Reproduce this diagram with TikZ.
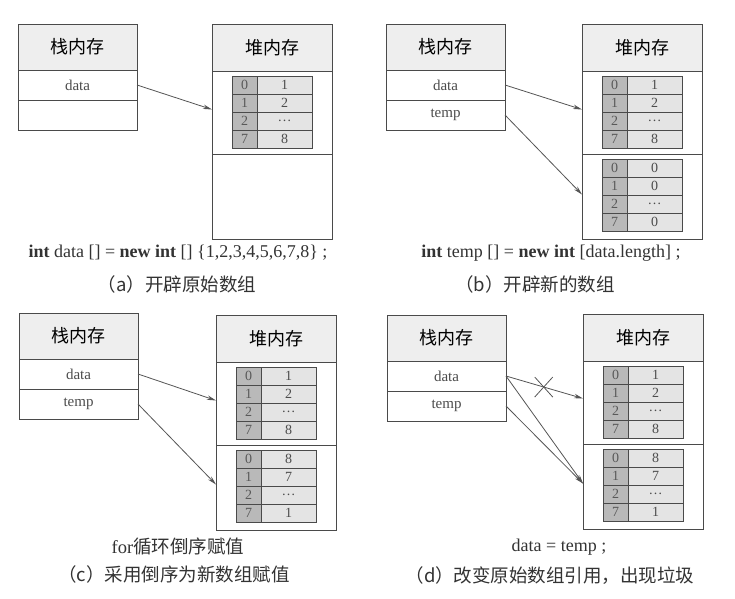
\documentclass[tikz,border=0pt]{standalone}
\usepackage{fontspec}
\setmainfont{Liberation Serif}
\newfontfamily\cjk{Noto Sans CJK SC}
\usetikzlibrary{calc,arrows.meta}
\definecolor{lnc}{HTML}{4A4A4A}
\definecolor{hdrc}{HTML}{EEEEEE}
\definecolor{idxc}{HTML}{B9B9B9}
\definecolor{valc}{HTML}{E4E4E4}
\definecolor{arrc}{HTML}{555555}
\tikzset{
  box/.style={draw=lnc, line width=0.8pt, inner sep=0pt, outer sep=0pt},
  hdr/.style={box, fill=hdrc, font=\cjk\fontsize{18}{18}\selectfont},
  cellbox/.style={box, fill=white, font=\fontsize{15}{15}\selectfont, text=black!70},
  idx/.style={box, fill=idxc, minimum width=25pt, minimum height=18pt, font=\fontsize{14}{14}\selectfont, text=black!65},
  val/.style={box, fill=valc, minimum width=55pt, minimum height=18pt, font=\fontsize{14}{14}\selectfont, text=black!70},
  ptr/.style={draw=arrc, line width=0.8pt, -{Stealth[length=9pt,width=4.5pt]}},
  codetxt/.style={font=\fontsize{18}{18}\selectfont, text=black!80},
  captxt/.style={font=\cjk\fontsize{18.5}{18.5}\selectfont, text=black!80}
}
\newcommand\stackmem[5]{%
  \node[hdr, minimum width=119pt, minimum height=46pt, anchor=north west] (#1-stack) at (#2,#3) {栈内存};
  \node[cellbox, minimum width=119pt, minimum height=30pt, anchor=north] (#1-data) at (#1-stack.south) {#4};
  \node[cellbox, minimum width=119pt, minimum height=30pt, anchor=north] (#1-temp) at (#1-data.south) {#5};
}
\newcommand\heapmem[3]{%
  \node[hdr, minimum width=120pt, minimum height=47pt, anchor=north west] (#1-heap) at (#2,#3) {堆内存};
  \node[box, fill=white, minimum width=120pt, minimum height=83pt, anchor=north] (#1-sec1) at (#1-heap.south) {};
  \node[box, fill=white, minimum width=120pt, minimum height=85pt, anchor=north] (#1-sec2) at (#1-sec1.south) {};
}
\newcommand\arr[6]{%
  \node[idx, anchor=north west] (#1-i0) at ($(#2.north west)+(20,5)$) {0};
  \node[val, anchor=west] (#1-v0) at (#1-i0.east) {#3};
  \node[idx, anchor=north] (#1-i1) at (#1-i0.south) {1};
  \node[val, anchor=west] (#1-v1) at (#1-i1.east) {#4};
  \node[idx, anchor=north] (#1-i2) at (#1-i1.south) {2};
  \node[val, anchor=west] (#1-v2) at (#1-i2.east) {#5};
  \node[idx, anchor=north] (#1-i3) at (#1-i2.south) {7};
  \node[val, anchor=west] (#1-v3) at (#1-i3.east) {#6};
}
\begin{document}
\begin{tikzpicture}[x=1pt,y=-1pt]
\useasboundingbox[fill=white] (0,0) rectangle (735,598);
% (a)
\stackmem{a}{18}{24}{data}{}
\heapmem{a}{212}{24}
\arr{a1}{a-sec1}{1}{2}{\dots}{8}
\draw[ptr] (a-data.east) -- ($(a-sec1.west)+(0,-3)$);
\node[codetxt] (a-code) at (178,253) {\textbf{int} data [] = \textbf{new int} [] \{1,2,3,4,5,6,7,8\} ;};
\node[captxt] (a-cap) at (177,284) {（a）开辟原始数组};
% (b)
\stackmem{b}{386}{24}{data}{temp}
\heapmem{b}{582}{24}
\arr{b1}{b-sec1}{1}{2}{\dots}{8}
\arr{b2}{b-sec2}{0}{0}{\dots}{0}
\draw[ptr] (b-data.east) -- ($(b-sec1.west)+(0,-3)$);
\draw[ptr] (b-temp.east) -- ($(b-sec2.west)+(0,-2)$);
\node[codetxt] (b-code) at (551,253) {\textbf{int} temp [] = \textbf{new int} [data.length] ;};
\node[captxt] (b-cap) at (535,284) {（b）开辟新的数组};
% (c)
\stackmem{c}{19}{313}{data}{temp}
\heapmem{c}{216}{315}
\arr{c1}{c-sec1}{1}{2}{\dots}{8}
\arr{c2}{c-sec2}{8}{7}{\dots}{1}
\draw[ptr] (c-data.east) -- ($(c-sec1.west)+(0,-3)$);
\draw[ptr] (c-temp.east) -- ($(c-sec2.west)+(0,-3)$);
\node[captxt] (c-code) at (178,546) {\fontspec{Liberation Serif}for\cjk 循环倒序赋值};
\node[captxt] (c-cap) at (174,574) {（c）采用倒序为新数组赋值};
% (d)
\stackmem{d}{387}{315}{data}{temp}
\heapmem{d}{583}{314}
\arr{d1}{d-sec1}{1}{2}{\dots}{8}
\arr{d2}{d-sec2}{8}{7}{\dots}{1}
\draw[ptr] (d-data.east) -- coordinate[pos=0.49] (d-x) ($(d-sec1.west)+(0,-4)$);
\draw[ptr] (d-data.east) -- ($(d-sec2.west)+(0,-3)$);
\draw[ptr] (d-temp.east) -- ($(d-sec2.west)+(0,-3)$);
\draw[draw=arrc, line width=0.8pt] ($(d-x)+(-9,-10)$) -- ($(d-x)+(9,10)$);
\draw[draw=arrc, line width=0.8pt] ($(d-x)+(-9,10)$) -- ($(d-x)+(9,-10)$);
\node[codetxt] (d-code) at (559,547) {data = temp ;};
\node[captxt] (d-cap) at (550,576) {（d）改变原始数组引用，出现垃圾};
\end{tikzpicture}
\end{document}
